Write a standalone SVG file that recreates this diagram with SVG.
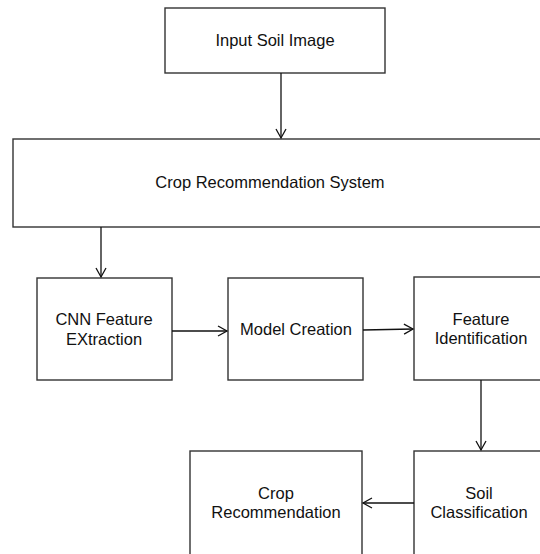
<svg xmlns="http://www.w3.org/2000/svg" width="540" height="554" viewBox="0 0 540 554">
<defs>
<marker id="arr" markerWidth="12" markerHeight="12" refX="10" refY="6" orient="auto" markerUnits="userSpaceOnUse">
<path d="M1,1 L10,6 L1,11" fill="none" stroke="#111" stroke-width="1.3"/>
</marker>
</defs>
<style>
rect{fill:#fff;stroke:#333;stroke-width:1.4}
text{font-family:"Liberation Sans",Arial,sans-serif;font-size:16.5px;fill:#111;text-anchor:middle}
.c line{stroke:#111;stroke-width:1.3;marker-end:url(#arr)}
</style>
<rect x="0" y="0" width="540" height="554" style="fill:#fff;stroke:none"/>
<g id="input"><rect x="165" y="8" width="220" height="65"/><text x="275" y="46">Input Soil Image</text></g>
<g id="system"><rect x="13" y="139" width="560" height="88"/><text x="270" y="188">Crop Recommendation System</text></g>
<g id="cnn"><rect x="37" y="278" width="135" height="102"/><text x="104" y="325">CNN Feature</text><text x="104" y="345">EXtraction</text></g>
<g id="model"><rect x="228" y="278" width="135" height="102"/><text x="296" y="335">Model Creation</text></g>
<g id="feature"><rect x="414" y="277" width="135" height="103"/><text x="481" y="325">Feature</text><text x="481" y="344">Identification</text></g>
<g id="soil"><rect x="414" y="451" width="135" height="120"/><text x="479" y="499">Soil</text><text x="479" y="518">Classification</text></g>
<g id="crop"><rect x="190" y="451" width="172" height="120"/><text x="276" y="499">Crop</text><text x="276" y="518">Recommendation</text></g>
<g class="c" id="connectors">
<line x1="281" y1="73" x2="281" y2="138"/>
<line x1="101" y1="227" x2="101" y2="277"/>
<line x1="172" y1="331" x2="227" y2="331"/>
<line x1="363" y1="330" x2="413" y2="329"/>
<line x1="481" y1="380" x2="481" y2="450"/>
<line x1="414" y1="503" x2="363" y2="503"/>
</g>
</svg>
